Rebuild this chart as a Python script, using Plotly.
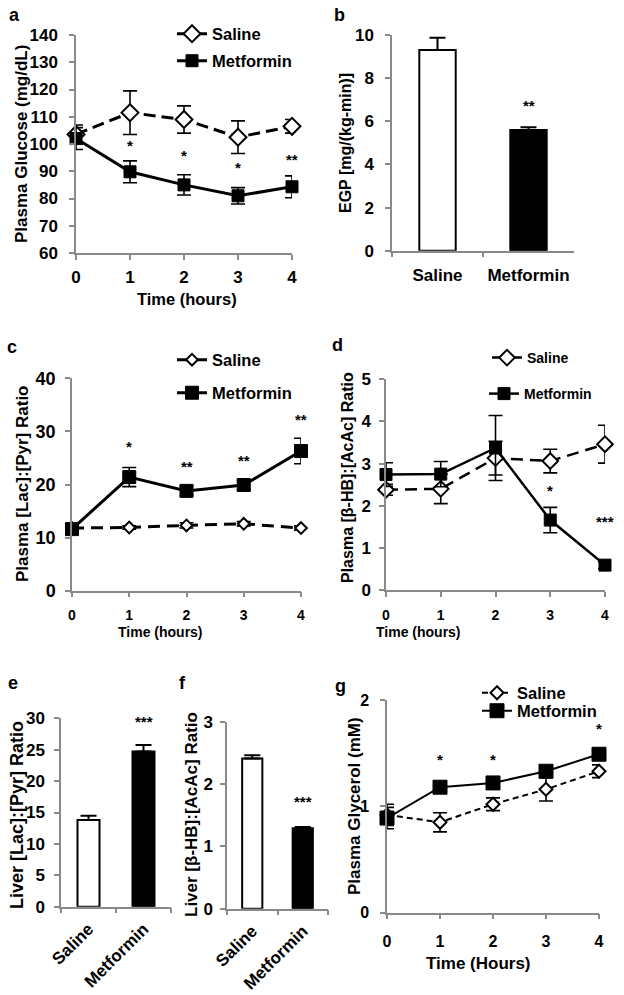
import plotly.graph_objects as go

W, H = 624, 995
FONT = "Liberation Sans, Arial, sans-serif"

# ---------------- data ----------------
hours = [0, 1, 2, 3, 4]
groups = ["Saline", "Metformin"]

# a: plasma glucose (mg/dL)
a_saline = [103.5, 111.5, 109.0, 102.5, 106.5]
a_saline_err = [3.5, 8.0, 5.0, 6.0, 2.5]
a_met = [102.0, 89.8, 85.0, 81.0, 84.3]
a_met_err = [4.0, 4.0, 3.7, 3.0, 4.0]
a_star_x = [1, 2, 3, 4]
a_star_y = [99.4, 95.6, 91.2, 94.4]
a_star_txt = ["*", "*", "*", "**"]

# b: EGP
b_vals = [9.3, 5.6]
b_err = [0.57, 0.12]
b_star_y = 6.75
b_star_txt = "**"

# c: plasma lactate:pyruvate
c_saline = [11.8, 11.9, 12.3, 12.6, 11.8]
c_saline_err = [0.4, 0.3, 0.5, 0.4, 0.4]
c_met = [11.6, 21.4, 18.8, 19.9, 26.3]
c_met_err = [0.8, 1.8, 0.9, 0.9, 2.4]
c_star_x = [1, 2, 3, 4]
c_star_y = [27.1, 23.4, 24.6, 32.3]
c_star_txt = ["*", "**", "**", "**"]

# d: plasma b-HB:AcAc
d_saline = [2.38, 2.40, 3.13, 3.06, 3.46]
d_saline_err = [0.13, 0.35, 0.40, 0.28, 0.45]
d_met = [2.74, 2.75, 3.37, 1.66, 0.59]
d_met_err = [0.28, 0.30, 0.77, 0.30, 0.08]
d_star_x = [3, 4]
d_star_y = [2.35, 1.62]
d_star_txt = ["*", "***"]

# e: liver lactate:pyruvate
e_vals = [13.8, 24.7]
e_err = [0.7, 1.05]
e_star_y = 29.5
e_star_txt = "***"

# f: liver b-HB:AcAc
f_vals = [2.41, 1.29]
f_err = [0.05, 0.02]
f_star_y = 1.72
f_star_txt = "***"

# g: plasma glycerol (mM)
g_saline = [0.92, 0.85, 1.02, 1.16, 1.33]
g_saline_err = [0.10, 0.09, 0.06, 0.11, 0.06]
g_met = [0.89, 1.18, 1.22, 1.33, 1.49]
g_met_err = [0.10, 0.03, 0.03, 0.03, 0.04]
g_star_x = [1, 2, 4]
g_star_y = [1.44, 1.445, 1.73]
g_star_txt = ["*", "*", "*"]


def fx(p):
    return p / W


def fy(p):
    return 1 - p / H


def dom_x(p0, p1):
    return [fx(p0), fx(p1)]


def dom_y(top, bottom):
    return [fy(bottom), fy(top)]


fig = go.Figure()
AX = "#8a8a8a"


def line_panel(n, sal, sal_err, met, met_err, leg_s, leg_m, lw, dash, dsize, ssize):
    xa = "x" if n == 1 else f"x{n}"
    ya = "y" if n == 1 else f"y{n}"
    fig.add_trace(go.Scatter(
        x=hours, y=sal, name="Saline", xaxis=xa, yaxis=ya, legend=leg_s,
        mode="lines+markers", cliponaxis=False,
        line=dict(color="black", width=lw, dash=dash),
        marker=dict(symbol="diamond", size=dsize, color="white",
                    line=dict(color="black", width=2)),
        error_y=dict(type="data", array=sal_err, color="black", thickness=1.6, width=7)))
    fig.add_trace(go.Scatter(
        x=hours, y=met, name="Metformin", xaxis=xa, yaxis=ya, legend=leg_m,
        mode="lines+markers", cliponaxis=False,
        line=dict(color="black", width=lw),
        marker=dict(symbol="square", size=ssize, color="black",
                    line=dict(color="black", width=1)),
        error_y=dict(type="data", array=met_err, color="black", thickness=1.6, width=7)))


def bar_panel(n, vals, err):
    fig.add_trace(go.Bar(
        x=groups, y=vals, xaxis=f"x{n}", yaxis=f"y{n}", showlegend=False, width=0.4,
        marker=dict(color=["white", "black"], line=dict(color="black", width=2)),
        error_y=dict(type="data", array=err, arrayminus=[0, 0], symmetric=False,
                     color="black", thickness=2, width=8)))


line_panel(1, a_saline, a_saline_err, a_met, a_met_err, "legend", "legend2",
           3, "12px,6px", 13, 12)
bar_panel(2, b_vals, b_err)
line_panel(3, c_saline, c_saline_err, c_met, c_met_err, "legend3", "legend4",
           3, "12px,7px", 9, 13)
line_panel(4, d_saline, d_saline_err, d_met, d_met_err, "legend5", "legend6",
           2.5, "12px,7px", 12, 12)
bar_panel(5, e_vals, e_err)
bar_panel(6, f_vals, f_err)
line_panel(7, g_saline, g_saline_err, g_met, g_met_err, "legend7", "legend8",
           2, "6px,4px", 10, 14)


def axis_style(tsize, **kw):
    d = dict(showline=True, linecolor=AX, linewidth=1.5, ticks="outside", tickcolor=AX,
             tickwidth=1.5, ticklen=5, showgrid=False, zeroline=False, automargin=False,
             tickfont=dict(family=FONT, size=tsize, color="black", weight="bold"))
    d.update(kw)
    return d


def leg(text_x, text_y, size):
    # text_x: left edge of the legend text, text_y: text centre (pixels)
    return dict(x=fx(text_x - 41), y=fy(text_y), xanchor="left", yanchor="middle",
                bgcolor="rgba(0,0,0,0)", borderwidth=0,
                font=dict(family=FONT, size=size, weight="bold", color="black"))


layout = dict(
    template="none",
    width=W, height=H, margin=dict(l=0, r=0, t=0, b=0, pad=0, autoexpand=False),
    paper_bgcolor="white", plot_bgcolor="white",
    font=dict(family=FONT, color="black", size=16, weight="bold"),
    # a
    xaxis=axis_style(17, domain=dom_x(76, 292), range=[0, 4], tickvals=hours, anchor="y",
                     ticklabelstandoff=3),
    yaxis=axis_style(17, domain=dom_y(35, 253), range=[60, 140], dtick=10, anchor="x",
                     ticklabelstandoff=8),
    # b
    xaxis2=axis_style(17, domain=dom_x(392, 574), range=[-0.5, 1.5], type="category",
                      tickson="boundaries", anchor="y2", ticklabelstandoff=8),
    yaxis2=axis_style(17, domain=dom_y(35, 250.7), range=[0, 10], dtick=2, anchor="x2",
                      ticklabelstandoff=8),
    # c
    xaxis3=axis_style(14, domain=dom_x(72, 301), range=[0, 4], tickvals=hours, anchor="y3",
                      ticklabelstandoff=6),
    yaxis3=axis_style(18, domain=dom_y(378.3, 590.7), range=[0, 40], dtick=10, anchor="x3",
                      ticklabelstandoff=6),
    # d
    xaxis4=axis_style(14, domain=dom_x(386, 605), range=[0, 4], tickvals=hours, anchor="y4",
                      ticklabelstandoff=6),
    yaxis4=axis_style(17, domain=dom_y(379.3, 590), range=[0, 5], dtick=1, anchor="x4",
                      ticklabelstandoff=5),
    # e
    xaxis5=axis_style(17, domain=dom_x(61, 171), range=[-0.5, 1.5], type="category",
                      tickson="boundaries", anchor="y5", tickangle=-45, ticklabelstandoff=4),
    yaxis5=axis_style(17, domain=dom_y(718.3, 906.7), range=[0, 30], dtick=5, anchor="x5",
                      ticklabelstandoff=6),
    # f
    xaxis6=axis_style(17, domain=dom_x(227, 328), range=[-0.5, 1.5], type="category",
                      tickson="boundaries", anchor="y6", tickangle=-45, ticklabelstandoff=4),
    yaxis6=axis_style(17, domain=dom_y(721.7, 908.7), range=[0, 3], dtick=1, anchor="x6",
                      ticklabelstandoff=4),
    # g
    xaxis7=axis_style(16, domain=dom_x(387, 599), range=[0, 4], tickvals=hours, anchor="y7",
                      ticklabelstandoff=8),
    yaxis7=axis_style(16, domain=dom_y(700, 912.7), range=[0, 2], dtick=1, anchor="x7",
                      ticklabelstandoff=8),
    legend=leg(213, 34, 16.5),
    legend2=leg(213, 61, 16.5),
    legend3=leg(213, 360, 16.5),
    legend4=leg(213, 393, 16.5),
    legend5=leg(528, 358, 14),
    legend6=leg(525, 394, 14),
    legend7=leg(518, 693, 16.5),
    legend8=leg(518, 711, 16.5),
)
fig.update_layout(**layout)

ann = []


def txt(x, y, s, size, angle=0):
    ann.append(dict(x=fx(x), y=fy(y), xref="paper", yref="paper", text=s, showarrow=False,
                    textangle=angle, xanchor="center", yanchor="middle",
                    font=dict(family=FONT, size=size, color="black", weight="bold")))


# panel letters
txt(14, 15, "a", 18)
txt(339, 15, "b", 18)
txt(12, 347, "c", 18)
txt(337, 345, "d", 18)
txt(13, 683, "e", 18)
txt(182, 683, "f", 18)
txt(341, 686, "g", 18)

# y titles
txt(21, 144, "Plasma Glucose (mg/dL)", 17, -90)
txt(345, 143, "EGP [mg/(kg-min)]", 16, -90)
txt(22, 484, "Plasma [Lac]:[Pyr] Ratio", 17, -90)
txt(347, 478, "Plasma [β-HB]:[AcAc] Ratio", 16, -90)
txt(17, 815, "Liver [Lac]:[Pyr] Ratio", 18, -90)
txt(191, 815, "Liver [β-HB]:[AcAc] Ratio", 17, -90)
txt(354, 806, "Plasma Glycerol (mM)", 17, -90)

# x titles
txt(187, 299, "Time (hours)", 16.5)
txt(160, 632, "Time (hours)", 14)
txt(419, 632, "Time (hours)", 14)
txt(478, 963, "Time (Hours)", 17)


def stars(xa, ya, xs, ys, ts):
    for x, y, t in zip(xs, ys, ts):
        ann.append(dict(x=x, y=y, xref=xa, yref=ya, text=t, showarrow=False,
                        xanchor="center", yanchor="middle",
                        font=dict(family=FONT, size=15, color="black")))


stars("x", "y", a_star_x, a_star_y, a_star_txt)
stars("x2", "y2", ["Metformin"], [b_star_y], [b_star_txt])
stars("x3", "y3", c_star_x, c_star_y, c_star_txt)
stars("x4", "y4", d_star_x, d_star_y, d_star_txt)
stars("x5", "y5", ["Metformin"], [e_star_y], [e_star_txt])
stars("x6", "y6", ["Metformin"], [f_star_y], [f_star_txt])
stars("x7", "y7", g_star_x, g_star_y, g_star_txt)

fig.update_layout(annotations=ann)

POST = (
    "document.documentElement.style.margin='0px';"
    "document.documentElement.style.padding='0px';"
    "document.body.style.margin='0px';document.body.style.padding='0px';"
    "document.body.style.overflow='hidden';"
    "var gd=document.getElementById('{plot_id}');"
    "gd.style.position='absolute';gd.style.left='0px';gd.style.top='0px';"
)
fig.write_html("out.html", config={"displayModeBar": False}, post_script=POST)
